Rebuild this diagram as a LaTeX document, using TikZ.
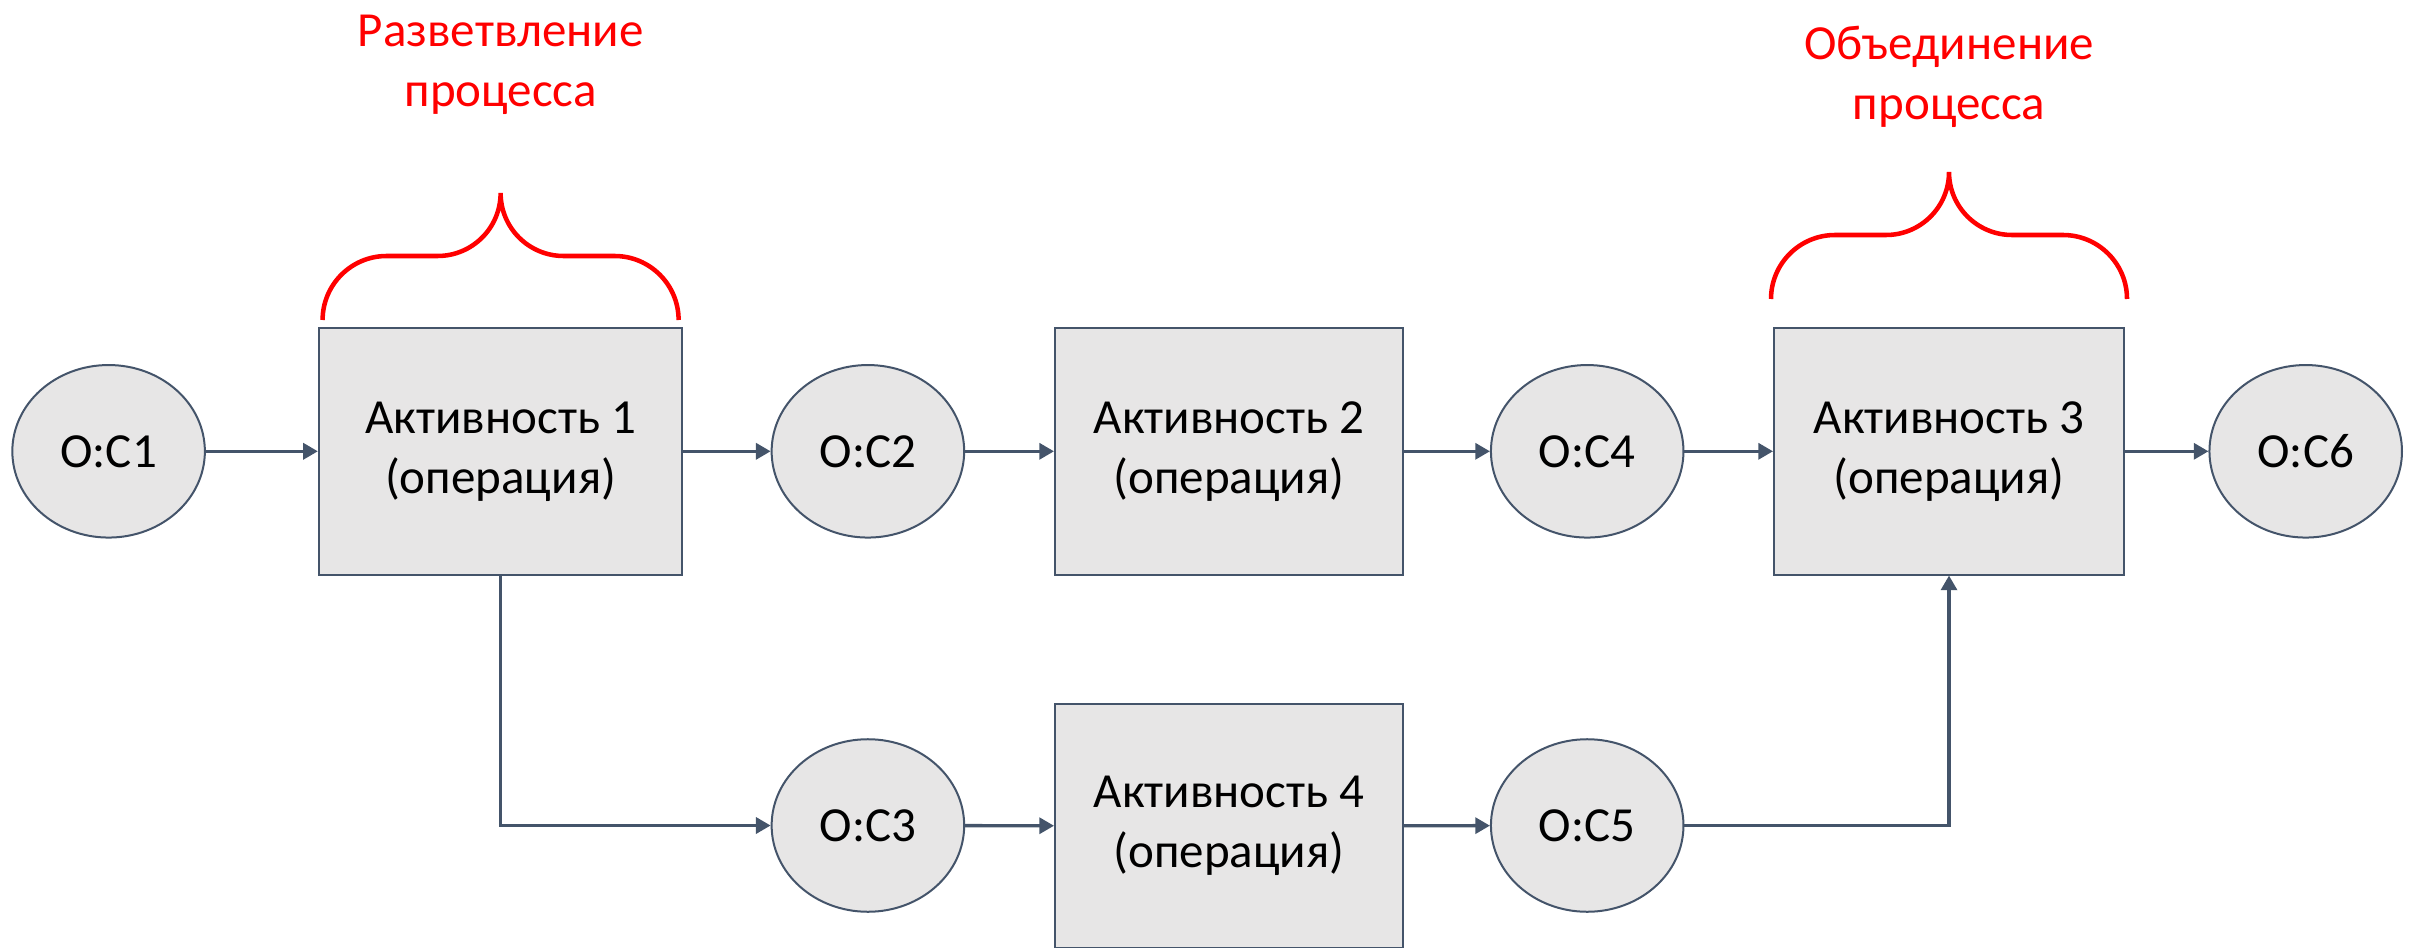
\documentclass[tikz,border=0pt]{standalone}
\usepackage{fontspec}
\setmainfont{Carlito}
\usetikzlibrary{shapes.geometric,arrows.meta}
\definecolor{ln}{HTML}{44546A}
\definecolor{fl}{HTML}{E7E6E6}
\begin{document}
\begin{tikzpicture}[x=0.75pt,y=-0.75pt,
  font=\fontsize{36.75pt}{45pt}\selectfont,
  obj/.style={ellipse,draw=ln,fill=fl,line width=1.5pt,minimum width=144.4pt,minimum height=129.4pt,inner sep=0pt},
  act/.style={rectangle,draw=ln,fill=fl,line width=1.5pt,minimum height=184.9pt,align=center,inner sep=0pt},
  flow/.style={draw=ln,line width=2.5pt,-{Triangle[length=11pt,width=12pt]}},
  lbl/.style={text=red,align=center},
  brc/.style={draw=red,line width=3.4pt},
  pics/procbrace/.style={code={\draw[brc] (-178,0) .. controls (-178,-35.3) and (-149.3,-64) .. (-114,-64) -- (-63,-64) .. controls (-28.2,-64) and (0,-92.2) .. (0,-127) .. controls (0,-92.2) and (28.2,-64) .. (63,-64) -- (114,-64) .. controls (149.3,-64) and (178,-35.3) .. (178,0);}}
]
\useasboundingbox (0,0) rectangle (2415,948);

\node[obj] (c1) at (108.6,451.3) {O:C1};
\node[act,minimum width=272.6pt] (a1) at (500.6,451.3) {Активность 1\\(операция)};
\node[obj] (c2) at (867.9,451.3) {O:C2};
\node[act,minimum width=261pt] (a2) at (1229,451.3) {Активность 2\\(операция)};
\node[obj] (c4) at (1587.2,451.3) {O:C4};
\node[act,minimum width=262.5pt] (a3) at (1949,451.3) {Активность 3\\(операция)};
\node[obj] (c6) at (2305.7,451.3) {O:C6};
\node[obj] (c3) at (867.9,825.5) {O:C3};
\node[act,minimum width=261pt,minimum height=183pt] (a4) at (1229,826) {Активность 4\\(операция)};
\node[obj] (c5) at (1587.2,825.5) {O:C5};

\node[lbl] (t1) at (500.6,65) {Разветвление\\процесса};
\node[lbl] (t2) at (1949,77) {Объединение\\процесса};

\pic at (500.6,320) {procbrace};
\pic at (1949,299) {procbrace};

\draw[flow] (c1) -- (a1);
\draw[flow] (a1) -- (c2);
\draw[flow] (c2) -- (a2);
\draw[flow] (a2) -- (c4);
\draw[flow] (c4) -- (a3);
\draw[flow] (a3) -- (c6);
\draw[flow] (a1.south) |- (c3.west);
\draw[flow] (c3) -- (a4);
\draw[flow] (a4) -- (c5);
\draw[flow] (c5.east) -| (a3.south);
\end{tikzpicture}
\end{document}
